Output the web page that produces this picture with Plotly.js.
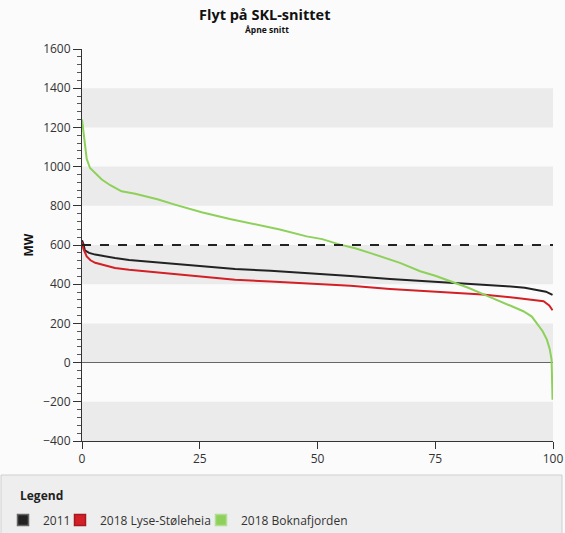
<!DOCTYPE html>
<html>
<head>
<meta charset="utf-8">
<script src="https://cdn.plot.ly/plotly-3.0.1.min.js"></script>
<style>
  html, body { margin: 0; padding: 0; background: #fbfbfb; }
  #chart { width: 565px; height: 533px; }
</style>
</head>
<body>
<div id="chart"></div>
<script>
// Duration-curve data (x = % of time, y = MW)
const seriesNames = ["2011", "2018 Lyse-Støleheia", "2018 Boknafjorden"];

const x2011 = [0, 0.3, 0.6, 1.5, 2.8, 5, 7, 10, 15.5, 20, 25, 32.5, 40, 50, 57, 65.4, 72, 79.5, 85, 90.2, 94, 96.5, 98.5, 99.9];
const y2011 = [624, 605, 573, 560, 551, 541, 534, 524, 512, 503, 494, 478, 468, 454, 442, 427, 418, 407, 398, 390, 382, 372, 362, 345];

const xLyse = [0, 0.3, 1, 1.8, 2.8, 5, 7, 10, 15.5, 20, 25, 32.5, 40, 50, 57, 65.4, 72, 79.5, 85, 92.3, 96, 98, 99.2, 99.9];
const yLyse = [615, 580, 542, 522, 509, 494, 483, 474, 461, 451, 441, 423, 414, 403, 392, 376, 367, 356, 347, 330, 318, 313, 292, 267];

const xBokna = [0, 0.4, 1.0, 1.7, 3, 4.2, 6, 8.4, 11.3, 16.2, 19.7, 25.4, 31.4, 36, 42, 47.7, 51, 54.8, 58, 61.1, 65.4, 67.5, 71.8, 75, 78.8, 82, 85.9, 90, 93.7, 95.5, 96.5, 97.8, 98.7, 99.3, 99.7, 99.9];
const yBokna = [1240, 1160, 1039, 993, 960, 934, 905, 874, 861, 832, 806, 767, 733, 710, 679, 644, 630, 602, 583, 560, 525, 509, 466, 443, 410, 382, 342, 302, 262, 235, 202, 160, 117, 70, 15, -189];

const limitX = [0, 100];
const limitY = [600, 600];

const colors = ["#222222", "#d31f26", "#8dd05a"];
const edgeColors = ["#666666", "#a31a20", "#b3dc96"];

const bandRanges = [[1200, 1400], [800, 1000], [400, 600], [0, 200], [-400, -200]];

const fontFam = "'Open Sans', 'DejaVu Sans', sans-serif";

const traces = [
  { x: x2011, y: y2011, mode: "lines", line: { color: colors[0], width: 2 }, showlegend: false, hoverinfo: "skip" },
  { x: xLyse, y: yLyse, mode: "lines", line: { color: colors[1], width: 2 }, showlegend: false, hoverinfo: "skip" },
  { x: xBokna, y: yBokna, mode: "lines", line: { color: colors[2], width: 2 }, showlegend: false, hoverinfo: "skip" },
  { x: limitX, y: limitY, mode: "lines", line: { color: "#222", width: 2, dash: "dash" }, showlegend: false, hoverinfo: "skip" }
];
// legend-only entries with square swatches, one legend each for precise placement
const legendIds = ["legend", "legend2", "legend3"];
seriesNames.forEach((n, i) => {
  traces.push({
    x: [null], y: [null], mode: "markers", name: n, legend: legendIds[i],
    marker: { symbol: "square", size: 11, color: colors[i], line: { color: edgeColors[i], width: 1.5 } }
  });
});

const shapes = bandRanges.map(r => ({
  type: "rect", xref: "x", yref: "y", x0: 0, x1: 100, y0: r[0], y1: r[1],
  fillcolor: "#ebebeb", line: { width: 0 }, layer: "below"
}));
// legend box (px 1..562, from y 475 down)
shapes.push({
  type: "rect", xref: "paper", yref: "paper",
  x0: (1 - 82) / 471, x1: (562 - 82) / 471, y0: (441 - 475) / 392, y1: (441 - 545) / 392,
  fillcolor: "#eeeeee", line: { color: "#cfcfcf", width: 1 }, layer: "below"
});

function legendAt(px) {
  return {
    orientation: "h", x: (px - 82) / 471, xanchor: "left", y: (441 - 520) / 392, yanchor: "middle",
    bgcolor: "rgba(0,0,0,0)", font: { size: 12, color: "#333", family: fontFam },
    itemwidth: 30
  };
}

const layout = {
  width: 565, height: 533,
  margin: { l: 82, r: 12, t: 49, b: 92, autoexpand: false },
  paper_bgcolor: "#fbfbfb",
  plot_bgcolor: "#fbfbfb",
  font: { family: fontFam, color: "#333", size: 12 },
  xaxis: {
    range: [0, 100], tickvals: [0, 25, 50, 75, 100],
    ticks: "outside", ticklen: 7, tickcolor: "#333",
    showline: true, linecolor: "#333", linewidth: 1,
    showgrid: false, zeroline: false, automargin: false,
    tickfont: { size: 12, color: "#333" }
  },
  yaxis: {
    range: [-400, 1600], dtick: 200,
    ticks: "outside", ticklen: 8, tickcolor: "#333",
    minor: { dtick: 40, ticks: "outside", ticklen: 4, tickcolor: "#555", showgrid: false },
    showline: true, linecolor: "#333", linewidth: 1,
    showgrid: false, automargin: false,
    zeroline: true, zerolinecolor: "#666", zerolinewidth: 1.5,
    tickfont: { size: 12, color: "#333" },
    title: { text: "<b>MW</b>", font: { size: 12, color: "#111" }, standoff: 6 }
  },
  shapes: shapes,
  annotations: [
    {
      xref: "paper", yref: "paper", x: (264 - 82) / 471, y: (441 - 15) / 392, xanchor: "center", yanchor: "middle",
      text: "<b>Flyt på SKL-snittet</b>", showarrow: false, font: { size: 14.5, color: "#111" }
    },
    {
      xref: "paper", yref: "paper", x: (267 - 82) / 471, y: (441 - 30) / 392, xanchor: "center", yanchor: "middle",
      text: "<b>Åpne snitt</b>", showarrow: false, font: { size: 8.5, color: "#111" }
    },
    {
      xref: "paper", yref: "paper", x: (18 - 82) / 471, y: (441 - 495) / 392, xanchor: "left", yanchor: "middle",
      text: "<b>Legend</b>", showarrow: false, font: { size: 12, color: "#222" }
    }
  ],
  legend: legendAt(3),
  legend2: legendAt(60),
  legend3: legendAt(201)
};

Plotly.newPlot("chart", traces, layout, { staticPlot: true, displayModeBar: false });
</script>
</body>
</html>
